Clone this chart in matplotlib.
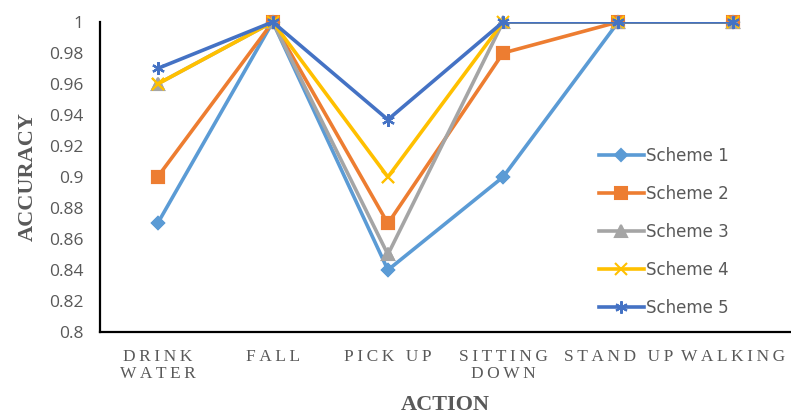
import matplotlib

matplotlib.use("Agg")
import matplotlib.pyplot as plt

actions = ["DRINK\nWATER", "FALL", "PICK UP", "SITTING\nDOWN", "STAND UP", "WALKING"]
scheme1 = [0.87, 1.0, 0.84, 0.90, 1.0, 1.0]
scheme2 = [0.90, 1.0, 0.87, 0.98, 1.0, 1.0]
scheme3 = [0.96, 1.0, 0.85, 1.0, 1.0, 1.0]
scheme4 = [0.96, 1.0, 0.90, 1.0, 1.0, 1.0]
scheme5 = [0.97, 1.0, 0.937, 1.0, 1.0, 1.0]
yticks = [0.8, 0.82, 0.84, 0.86, 0.88, 0.9, 0.92, 0.94, 0.96, 0.98, 1.0]

series = [
    ("Scheme 1", scheme1, "#5B9BD5", "D", 6),
    ("Scheme 2", scheme2, "#ED7D31", "s", 9),
    ("Scheme 3", scheme3, "#A5A5A5", "^", 8),
    ("Scheme 4", scheme4, "#FFC000", "x", 8),
    ("Scheme 5", scheme5, "#4472C4", (6, 2, 0), 9),
]


def spaced(label):
    # widen the letter spacing of the category names
    return "\n".join("\u2009".join(line) for line in label.split("\n"))


fig = plt.figure(figsize=(7.91, 4.15), dpi=100)
ax = fig.add_axes([0.1264, 0.2, 0.8736, 0.747])
x = list(range(len(actions)))

for name, vals, color, marker, ms in series:
    ax.plot(x, vals, color=color, lw=2.6, marker=marker, ms=ms,
            mec=color, mfc=color, mew=1.5, label=name)
    # markers sitting on the top edge stay whole
    ax.plot(x, vals, color=color, lw=0, marker=marker, ms=ms,
            mec=color, mfc=color, mew=1.5, clip_on=False)

ax.set_xlim(-0.5, 5.5)
ax.set_ylim(0.8, 1.0)
ax.set_yticks(yticks)
ax.set_yticklabels([f"{v:g}" for v in yticks], fontsize=12.5, color="#595959",
                   family="Open Sans")
ax.set_xticks(x)
ax.set_xticklabels([spaced(a) for a in actions], fontsize=12.5, color="#595959",
                   family=["Liberation Serif", "DejaVu Serif"], linespacing=1.15)
ax.tick_params(axis="both", length=0)
ax.tick_params(axis="y", pad=12)
ax.tick_params(axis="x", pad=12)

for side in ("top", "right"):
    ax.spines[side].set_visible(False)
for side in ("left", "bottom"):
    ax.spines[side].set_linewidth(1.6)
    ax.spines[side].set_color("black")

ax.set_ylabel("ACCURACY", fontsize=16, fontweight="bold", color="#595959",
              family="Liberation Serif", labelpad=8)
ax.set_xlabel("ACTION", fontsize=16, fontweight="bold", color="#595959",
              family="Liberation Serif", labelpad=9)

leg = ax.legend(loc="upper left", bbox_to_anchor=(0.71, 0.625), frameon=False,
                fontsize=12, labelspacing=1.2, handlelength=2.7,
                handletextpad=0.1, borderpad=0)
for t in leg.get_texts():
    t.set_color("#595959")

fig.savefig("out.png", dpi=100)
